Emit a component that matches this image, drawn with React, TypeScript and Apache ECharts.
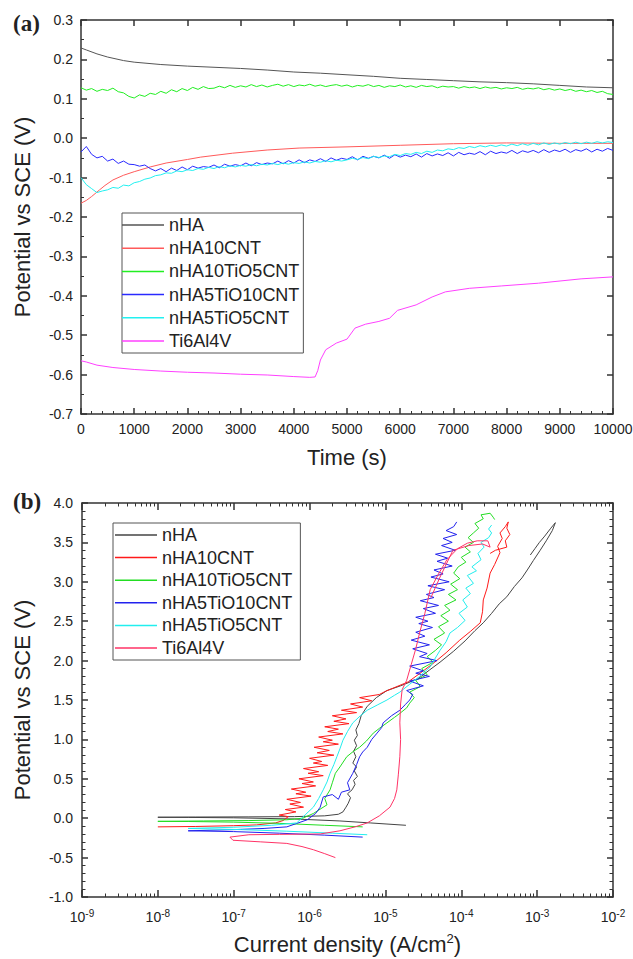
import React, { useEffect, useRef } from "react";
import * as echarts from "echarts";

const FONT = "'Liberation Sans', Arial, sans-serif";
const NAMES = ["nHA", "nHA10CNT", "nHA10TiO5CNT", "nHA5TiO10CNT", "nHA5TiO5CNT", "Ti6Al4V"];
const COLORS_A = ["#555555", "#ff5a5a", "#22ee22", "#2a2aff", "#22f0f0", "#ff40ff"];
const COLORS_B = ["#444444", "#ff1a1a", "#22dd22", "#2222ee", "#22eeee", "#ff3366"];

// ---------- panel (a): open circuit potential vs time ----------
const TIME = [0, 100, 200, 300, 400, 500, 600, 700, 800, 900, 1000, 1100, 1200, 1300, 1400, 1500, 1600, 1700, 1800, 1900, 2000, 2100, 2200, 2300, 2400, 2500, 2600, 2700, 2800, 2900, 3000, 3100, 3200, 3300, 3400, 3500, 3600, 3700, 3800, 3900, 4000, 4100, 4200, 4300, 4400, 4500, 4600, 4700, 4800, 4900, 5000, 5100, 5200, 5300, 5400, 5500, 5600, 5700, 5800, 5900, 6000, 6100, 6200, 6300, 6400, 6500, 6600, 6700, 6800, 6900, 7000, 7100, 7200, 7300, 7400, 7500, 7600, 7700, 7800, 7900, 8000, 8100, 8200, 8300, 8400, 8500, 8600, 8700, 8800, 8900, 9000, 9100, 9200, 9300, 9400, 9500, 9600, 9700, 9800, 9900, 10000];

const NHA_A = [[0, 0.229], [100, 0.224], [300, 0.214], [500, 0.206], [800, 0.197], [1000, 0.193], [1500, 0.187], [2000, 0.183], [2500, 0.18], [3000, 0.177], [3500, 0.173], [4000, 0.168], [4500, 0.165], [5000, 0.161], [5500, 0.157], [6000, 0.152], [6500, 0.149], [7000, 0.146], [7500, 0.143], [8000, 0.141], [8500, 0.138], [9000, 0.134], [9500, 0.13], [10000, 0.128]];

const NHA10CNT_A = [[0, -0.165], [100, -0.158], [200, -0.148], [350, -0.131], [450, -0.12], [600, -0.106], [800, -0.094], [1000, -0.085], [1300, -0.073], [1600, -0.063], [2000, -0.054], [2250, -0.048], [2850, -0.038], [3500, -0.03], [4100, -0.025], [5000, -0.022], [6000, -0.018], [7000, -0.014], [8000, -0.012], [9000, -0.013], [10000, -0.013]];

const NHA10TIO5CNT_A = [0.128, 0.122, 0.126, 0.119, 0.124, 0.121, 0.127, 0.118, 0.115, 0.106, 0.102, 0.11, 0.106, 0.114, 0.111, 0.119, 0.114, 0.123, 0.118, 0.126, 0.121, 0.129, 0.124, 0.131, 0.126, 0.127, 0.132, 0.128, 0.134, 0.129, 0.133, 0.13, 0.136, 0.131, 0.135, 0.13, 0.134, 0.137, 0.132, 0.136, 0.131, 0.135, 0.133, 0.137, 0.132, 0.135, 0.131, 0.134, 0.136, 0.132, 0.135, 0.13, 0.134, 0.132, 0.136, 0.131, 0.134, 0.129, 0.133, 0.131, 0.135, 0.13, 0.133, 0.129, 0.134, 0.131, 0.133, 0.128, 0.132, 0.13, 0.131, 0.127, 0.131, 0.128, 0.13, 0.126, 0.13, 0.127, 0.129, 0.125, 0.128, 0.126, 0.129, 0.124, 0.127, 0.125, 0.128, 0.123, 0.126, 0.122, 0.125, 0.121, 0.124, 0.119, 0.122, 0.118, 0.121, 0.116, 0.119, 0.113, 0.111];

const NHA5TIO10CNT_A = [-0.035, -0.021, -0.041, -0.05, -0.046, -0.058, -0.053, -0.064, -0.058, -0.066, -0.067, -0.071, -0.068, -0.077, -0.083, -0.077, -0.085, -0.076, -0.082, -0.073, -0.08, -0.071, -0.076, -0.072, -0.074, -0.068, -0.075, -0.066, -0.071, -0.067, -0.07, -0.063, -0.07, -0.062, -0.067, -0.063, -0.065, -0.058, -0.065, -0.057, -0.063, -0.055, -0.062, -0.055, -0.059, -0.052, -0.059, -0.05, -0.056, -0.051, -0.054, -0.047, -0.055, -0.046, -0.051, -0.046, -0.05, -0.043, -0.051, -0.042, -0.048, -0.043, -0.047, -0.04, -0.048, -0.039, -0.045, -0.04, -0.044, -0.037, -0.045, -0.036, -0.042, -0.038, -0.041, -0.034, -0.042, -0.033, -0.039, -0.035, -0.038, -0.031, -0.039, -0.032, -0.036, -0.031, -0.037, -0.029, -0.036, -0.03, -0.034, -0.028, -0.036, -0.029, -0.033, -0.027, -0.035, -0.028, -0.033, -0.026, -0.031];

const NHA5TIO5CNT_A = [-0.1, -0.118, -0.128, -0.138, -0.134, -0.131, -0.125, -0.127, -0.119, -0.121, -0.113, -0.11, -0.104, -0.101, -0.095, -0.093, -0.088, -0.089, -0.083, -0.085, -0.08, -0.082, -0.077, -0.079, -0.074, -0.077, -0.072, -0.075, -0.07, -0.073, -0.069, -0.071, -0.067, -0.07, -0.066, -0.068, -0.064, -0.067, -0.063, -0.066, -0.062, -0.064, -0.06, -0.063, -0.059, -0.061, -0.057, -0.06, -0.056, -0.058, -0.055, -0.051, -0.054, -0.049, -0.052, -0.046, -0.049, -0.045, -0.047, -0.041, -0.044, -0.039, -0.041, -0.036, -0.039, -0.033, -0.036, -0.03, -0.032, -0.027, -0.029, -0.024, -0.026, -0.021, -0.024, -0.019, -0.022, -0.018, -0.021, -0.017, -0.02, -0.015, -0.019, -0.014, -0.018, -0.013, -0.017, -0.012, -0.016, -0.012, -0.015, -0.011, -0.014, -0.01, -0.014, -0.01, -0.013, -0.009, -0.012, -0.009, -0.011];

const TI6AL4V_A = [[0, -0.565], [100, -0.568], [300, -0.576], [600, -0.582], [1000, -0.587], [1500, -0.591], [2000, -0.594], [2500, -0.596], [3000, -0.599], [3500, -0.601], [4000, -0.605], [4300, -0.607], [4400, -0.606], [4450, -0.59], [4500, -0.563], [4600, -0.537], [4800, -0.52], [5000, -0.51], [5150, -0.482], [5350, -0.472], [5600, -0.465], [5800, -0.457], [5950, -0.437], [6300, -0.423], [6600, -0.403], [6850, -0.39], [7300, -0.381], [7900, -0.375], [8600, -0.368], [9400, -0.357], [10000, -0.352]];

// ---------- panel (b): polarisation curves, [log10(i / A cm^-2), E / V] ----------
const NHA_B = [[-4.73, -0.09], [-5.2, -0.06], [-5.6, -0.035], [-6.2, -0.01], [-7.0, 0.005], [-7.6, 0.01], [-8.0, 0.012], [-7.5, 0.015], [-6.8, 0.017], [-6.2, 0.02], [-5.8, 0.03], [-5.62, 0.05], [-5.56, 0.08], [-5.52, 0.14], [-5.49, 0.19], [-5.46, 0.26], [-5.5, 0.31], [-5.44, 0.36], [-5.4, 0.43], [-5.42, 0.48], [-5.37, 0.53], [-5.41, 0.6], [-5.38, 0.65], [-5.43, 0.7], [-5.39, 0.78], [-5.42, 0.85], [-5.38, 0.92], [-5.41, 0.99], [-5.37, 1.05], [-5.39, 1.12], [-5.35, 1.2], [-5.32, 1.3], [-5.24, 1.42], [-5.12, 1.53], [-4.98, 1.62], [-4.8, 1.68], [-4.57, 1.77], [-4.42, 1.88], [-4.28, 1.98], [-4.1, 2.12], [-3.95, 2.25], [-3.82, 2.38], [-3.71, 2.48], [-3.6, 2.6], [-3.5, 2.72], [-3.4, 2.81], [-3.3, 2.94], [-3.2, 3.05], [-3.13, 3.15], [-3.05, 3.27], [-2.96, 3.4], [-2.88, 3.52], [-2.8, 3.65], [-2.76, 3.75], [-2.82, 3.68], [-2.9, 3.58], [-2.97, 3.5], [-3.03, 3.42], [-3.09, 3.34]];

const NHA10CNT_B = [[-8.0, -0.11], [-7.5, -0.105], [-7.0, -0.095], [-6.7, -0.085], [-6.45, -0.06], [-6.35, -0.03], [-6.28, 0.02], [-6.4, 0.04], [-6.18, 0.08], [-6.32, 0.11], [-6.08, 0.14], [-6.26, 0.18], [-6.12, 0.2], [-6.3, 0.24], [-5.98, 0.28], [-6.18, 0.31], [-6.05, 0.33], [-6.24, 0.37], [-5.92, 0.41], [-6.1, 0.44], [-5.95, 0.46], [-6.14, 0.5], [-5.82, 0.54], [-6.02, 0.57], [-5.88, 0.59], [-6.08, 0.63], [-5.76, 0.67], [-5.95, 0.7], [-5.84, 0.72], [-6.0, 0.76], [-5.68, 0.8], [-5.9, 0.83], [-5.74, 0.86], [-5.94, 0.9], [-5.62, 0.94], [-5.82, 0.97], [-5.7, 0.99], [-5.88, 1.03], [-5.56, 1.07], [-5.76, 1.1], [-5.62, 1.13], [-5.8, 1.16], [-5.48, 1.2], [-5.68, 1.23], [-5.52, 1.26], [-5.7, 1.3], [-5.38, 1.34], [-5.58, 1.37], [-5.3, 1.41], [-5.46, 1.45], [-5.18, 1.49], [-5.34, 1.53], [-5.08, 1.57], [-5.0, 1.61], [-4.9, 1.65], [-4.7, 1.73], [-4.5, 1.87], [-4.35, 1.98], [-4.2, 2.1], [-4.02, 2.26], [-3.88, 2.37], [-3.75, 2.48], [-3.72, 2.62], [-3.71, 2.77], [-3.66, 2.92], [-3.62, 3.11], [-3.56, 3.22], [-3.49, 3.37], [-3.52, 3.45], [-3.46, 3.55], [-3.49, 3.62], [-3.42, 3.7], [-3.38, 3.76], [-3.4, 3.68], [-3.36, 3.6], [-3.42, 3.52], [-3.4, 3.44], [-3.55, 3.4], [-3.62, 3.36]];

const NHA10TIO5CNT_B = [[-5.3, -0.11], [-5.8, -0.09], [-6.4, -0.065], [-7.0, -0.05], [-7.6, -0.042], [-8.0, -0.04], [-7.4, -0.035], [-6.8, -0.03], [-6.3, -0.02], [-6.09, 0.0], [-5.95, 0.06], [-5.77, 0.17], [-5.8, 0.25], [-5.73, 0.36], [-5.7, 0.45], [-5.66, 0.57], [-5.6, 0.65], [-5.51, 0.78], [-5.42, 0.85], [-5.34, 0.9], [-5.25, 0.98], [-5.16, 1.08], [-5.08, 1.14], [-4.98, 1.21], [-4.88, 1.28], [-4.81, 1.33], [-4.72, 1.4], [-4.68, 1.46], [-4.62, 1.53], [-4.68, 1.6], [-4.54, 1.67], [-4.6, 1.75], [-4.45, 1.82], [-4.52, 1.9], [-4.37, 1.98], [-4.45, 2.05], [-4.34, 2.13], [-4.26, 2.2], [-4.36, 2.27], [-4.22, 2.35], [-4.3, 2.43], [-4.17, 2.5], [-4.27, 2.57], [-4.15, 2.64], [-4.22, 2.7], [-4.07, 2.77], [-4.17, 2.84], [-4.05, 2.9], [-4.14, 2.97], [-4.02, 3.04], [-4.1, 3.11], [-4.04, 3.19], [-3.94, 3.25], [-4.0, 3.31], [-3.88, 3.38], [-3.95, 3.44], [-3.84, 3.5], [-3.91, 3.56], [-3.84, 3.62], [-3.77, 3.68], [-3.82, 3.74], [-3.71, 3.8], [-3.74, 3.85], [-3.62, 3.87], [-3.58, 3.82], [-3.56, 3.79]];

const NHA5TIO10CNT_B = [[-5.3, -0.24], [-5.8, -0.215], [-6.4, -0.19], [-7.0, -0.17], [-7.6, -0.16], [-7.0, -0.145], [-6.6, -0.13], [-6.3, -0.11], [-6.03, -0.02], [-5.92, 0.06], [-5.86, 0.14], [-5.82, 0.27], [-5.7, 0.3], [-5.62, 0.24], [-5.58, 0.33], [-5.47, 0.36], [-5.5, 0.45], [-5.43, 0.57], [-5.38, 0.68], [-5.34, 0.78], [-5.3, 0.84], [-5.24, 0.9], [-5.18, 1.0], [-5.11, 1.08], [-5.05, 1.15], [-5.03, 1.21], [-4.92, 1.3], [-4.81, 1.37], [-4.74, 1.44], [-4.68, 1.5], [-4.64, 1.57], [-4.72, 1.62], [-4.5, 1.68], [-4.68, 1.74], [-4.42, 1.8], [-4.6, 1.84], [-4.5, 1.87], [-4.68, 1.93], [-4.32, 2.0], [-4.55, 2.05], [-4.45, 2.09], [-4.64, 2.15], [-4.42, 2.2], [-4.66, 2.26], [-4.48, 2.31], [-4.6, 2.36], [-4.38, 2.42], [-4.56, 2.47], [-4.44, 2.5], [-4.6, 2.55], [-4.34, 2.6], [-4.5, 2.66], [-4.3, 2.7], [-4.54, 2.76], [-4.36, 2.8], [-4.46, 2.84], [-4.22, 2.9], [-4.44, 2.95], [-4.16, 3.0], [-4.4, 3.06], [-4.24, 3.1], [-4.36, 3.15], [-4.12, 3.2], [-4.32, 3.26], [-4.18, 3.3], [-4.34, 3.35], [-4.08, 3.4], [-4.26, 3.46], [-4.12, 3.5], [-4.24, 3.55], [-4.06, 3.6], [-4.2, 3.65], [-4.1, 3.7], [-4.06, 3.76]];

const NHA5TIO5CNT_B = [[-5.24, -0.21], [-5.7, -0.19], [-6.3, -0.165], [-6.9, -0.145], [-7.6, -0.13], [-7.0, -0.115], [-6.5, -0.09], [-6.17, -0.06], [-6.05, 0.05], [-5.95, 0.14], [-5.88, 0.25], [-5.82, 0.36], [-5.77, 0.46], [-5.73, 0.57], [-5.68, 0.68], [-5.64, 0.78], [-5.6, 0.88], [-5.56, 0.99], [-5.5, 1.1], [-5.43, 1.21], [-5.33, 1.3], [-5.24, 1.37], [-5.1, 1.44], [-4.98, 1.5], [-4.88, 1.56], [-4.81, 1.6], [-4.68, 1.7], [-4.55, 1.8], [-4.41, 1.92], [-4.35, 2.02], [-4.28, 2.13], [-4.2, 2.24], [-4.15, 2.35], [-4.05, 2.42], [-3.95, 2.51], [-4.03, 2.6], [-3.92, 2.68], [-3.98, 2.77], [-3.88, 2.85], [-3.94, 2.92], [-3.84, 2.98], [-3.92, 3.08], [-3.8, 3.14], [-3.86, 3.19], [-3.74, 3.28], [-3.78, 3.36], [-3.7, 3.44], [-3.74, 3.5], [-3.64, 3.56], [-3.6, 3.62], [-3.64, 3.67], [-3.6, 3.72]];

const TI6AL4V_B = [[-5.66, -0.5], [-5.8, -0.45], [-5.95, -0.4], [-6.1, -0.36], [-6.3, -0.32], [-6.65, -0.3], [-7.01, -0.28], [-7.05, -0.24], [-6.8, -0.21], [-6.4, -0.205], [-5.86, -0.2], [-5.6, -0.16], [-5.4, -0.11], [-5.24, -0.06], [-5.08, 0.03], [-4.94, 0.14], [-4.88, 0.25], [-4.85, 0.36], [-4.83, 0.55], [-4.81, 0.78], [-4.8, 1.0], [-4.81, 1.21], [-4.8, 1.45], [-4.78, 1.63], [-4.72, 1.75], [-4.66, 1.95], [-4.6, 2.15], [-4.55, 2.35], [-4.48, 2.6], [-4.41, 2.9], [-4.3, 3.1], [-4.19, 3.28], [-4.05, 3.42], [-3.92, 3.49], [-3.79, 3.52], [-3.65, 3.52], [-3.62, 3.44], [-3.72, 3.48], [-3.9, 3.46], [-4.11, 3.4], [-4.28, 3.06], [-4.4, 2.8]];

const DECADES = [1e-9, 1e-8, 1e-7, 1e-6, 1e-5, 1e-4, 1e-3, 1e-2];
const MANTISSAS = [2, 3, 4, 5, 6, 7, 8, 9];

const AXIS_COLOR = "#333";
const LABEL_COLOR = "#222";

export default function App() {
  const ref = useRef<HTMLDivElement>(null);

  useEffect(() => {
    if (!ref.current) return;
    const chart = echarts.init(ref.current, undefined, { renderer: "svg" });

    const minorLog: number[] = [];
    DECADES.slice(0, -1).forEach((d) => MANTISSAS.forEach((m) => minorLog.push(m * d)));

    const fmt1 = (v: number) => (Math.abs(v) < 1e-9 ? "0.0" : v.toFixed(1));
    const line = { show: true, onZero: false, lineStyle: { color: AXIS_COLOR, width: 1.5 } };
    const noSplit = { show: false };
    const labelBase = { color: LABEL_COLOR, fontSize: 14, fontFamily: FONT };
    const titleStyle = { fontSize: 22, color: LABEL_COLOR, fontFamily: FONT };

    const toB = (pts: number[][]) => pts.map(([l, e]) => [Math.pow(10, l), e]);

    const seriesA = [
      { data: NHA_A },
      { data: NHA10CNT_A },
      { data: TIME.map((t, i) => [t, NHA10TIO5CNT_A[i]]) },
      { data: TIME.map((t, i) => [t, NHA5TIO10CNT_A[i]]) },
      { data: TIME.map((t, i) => [t, NHA5TIO5CNT_A[i]]) },
      { data: TI6AL4V_A },
    ].map((s, i) => ({
      type: "line",
      name: NAMES[i],
      xAxisIndex: 0,
      yAxisIndex: 0,
      data: s.data,
      symbol: "none",
      showSymbol: false,
      lineStyle: { color: COLORS_A[i], width: 1 },
      itemStyle: { color: COLORS_A[i] },
      silent: true,
    }));

    const seriesB = [NHA_B, NHA10CNT_B, NHA10TIO5CNT_B, NHA5TIO10CNT_B, NHA5TIO5CNT_B, TI6AL4V_B].map((pts, i) => ({
      type: "line",
      name: NAMES[i],
      xAxisIndex: 2,
      yAxisIndex: 2,
      data: toB(pts),
      symbol: "none",
      showSymbol: false,
      lineStyle: { color: COLORS_B[i], width: 1 },
      itemStyle: { color: COLORS_B[i] },
      silent: true,
    }));

    const logLabel = (v: number) => `{b|10}{s|${Math.round(Math.log10(v))}}`;

    const legendCommon = {
      orient: "vertical",
      icon: "rect",
      itemHeight: 1.5,
      itemWidth: 42,
      borderColor: "#555",
      borderWidth: 1,
      selectedMode: false,
      textStyle: { fontSize: 18, color: LABEL_COLOR, fontFamily: FONT },
    };

    chart.setOption({
      animation: false,
      backgroundColor: "#fff",
      grid: [
        { left: 81, top: 20, width: 532, height: 394, outerBoundsMode: "none", containLabel: false },
        { left: 82, top: 503, width: 531, height: 394, outerBoundsMode: "none", containLabel: false },
      ],
      xAxis: [
        {
          gridIndex: 0, type: "value", position: "bottom", min: 0, max: 10000, interval: 1000,
          axisLine: line,
          axisTick: { show: true, inside: true, length: 6, lineStyle: { color: AXIS_COLOR, width: 1.5 } },
          minorTick: { show: true, splitNumber: 5, length: 3, lineStyle: { color: AXIS_COLOR, width: 1 } },
          axisLabel: { ...labelBase, margin: 8, formatter: (v: number) => String(v) },
          splitLine: noSplit,
          name: "Time (s)", nameLocation: "middle", nameGap: 32,
          nameTextStyle: titleStyle,
        },
        {
          gridIndex: 0, type: "value", position: "top", min: 0, max: 10000, interval: 1000,
          axisLine: line,
          axisTick: { show: true, inside: true, length: 6, lineStyle: { color: AXIS_COLOR, width: 1.5 } },
          axisLabel: { show: false },
          splitLine: noSplit,
        },
        {
          gridIndex: 1, type: "log", logBase: 10, position: "bottom", min: 1e-9, max: 1e-2,
          axisLine: line,
          axisTick: { show: true, inside: true, length: 7, customValues: DECADES, lineStyle: { color: AXIS_COLOR, width: 1.5 } },
          axisLabel: {
            ...labelBase, margin: 11, customValues: DECADES, formatter: logLabel,
            rich: {
              b: { fontSize: 14, lineHeight: 18, color: LABEL_COLOR, fontFamily: FONT },
              s: { fontSize: 10, lineHeight: 10, verticalAlign: "top", color: LABEL_COLOR, fontFamily: FONT },
            },
          },
          splitLine: noSplit,
          name: "Current density (A/cm{sup|2})", nameLocation: "middle", nameGap: 35,
          nameTextStyle: {
            ...titleStyle, lineHeight: 25,
            rich: { sup: { fontSize: 13, lineHeight: 13, verticalAlign: "top", color: LABEL_COLOR, fontFamily: FONT } },
          },
        },
        {
          gridIndex: 1, type: "log", logBase: 10, position: "bottom", min: 1e-9, max: 1e-2,
          axisLine: { show: false, onZero: false },
          axisTick: { show: true, inside: true, length: 3.5, customValues: minorLog, lineStyle: { color: AXIS_COLOR, width: 1 } },
          axisLabel: { show: false },
          splitLine: noSplit,
        },
        {
          gridIndex: 1, type: "log", logBase: 10, position: "top", min: 1e-9, max: 1e-2,
          axisLine: line,
          axisTick: { show: true, inside: true, length: 7, customValues: DECADES, lineStyle: { color: AXIS_COLOR, width: 1.5 } },
          axisLabel: { show: false },
          splitLine: noSplit,
        },
        {
          gridIndex: 1, type: "log", logBase: 10, position: "top", min: 1e-9, max: 1e-2,
          axisLine: { show: false, onZero: false },
          axisTick: { show: true, inside: true, length: 3.5, customValues: minorLog, lineStyle: { color: AXIS_COLOR, width: 1 } },
          axisLabel: { show: false },
          splitLine: noSplit,
        },
      ],
      yAxis: [
        {
          gridIndex: 0, type: "value", position: "left", min: -0.7, max: 0.3, interval: 0.1,
          axisLine: line,
          axisTick: { show: true, inside: true, length: 6, lineStyle: { color: AXIS_COLOR, width: 1.5 } },
          minorTick: { show: true, splitNumber: 2, length: 3, lineStyle: { color: AXIS_COLOR, width: 1 } },
          axisLabel: { ...labelBase, margin: 8, formatter: fmt1 },
          splitLine: noSplit,
          name: "Potential vs SCE (V)", nameLocation: "middle", nameGap: 48,
          nameTextStyle: titleStyle,
        },
        {
          gridIndex: 0, type: "value", position: "right", min: -0.7, max: 0.3, interval: 0.1,
          axisLine: line,
          axisTick: { show: true, inside: true, length: 6, lineStyle: { color: AXIS_COLOR, width: 1.5 } },
          axisLabel: { show: false },
          splitLine: noSplit,
        },
        {
          gridIndex: 1, type: "value", position: "left", min: -1, max: 4, interval: 0.5,
          axisLine: line,
          axisTick: { show: true, inside: true, length: 6, lineStyle: { color: AXIS_COLOR, width: 1.5 } },
          minorTick: { show: true, splitNumber: 5, length: 3.5, lineStyle: { color: AXIS_COLOR, width: 1 } },
          axisLabel: { ...labelBase, margin: 9, formatter: fmt1 },
          splitLine: noSplit,
          name: "Potential vs SCE (V)", nameLocation: "middle", nameGap: 49,
          nameTextStyle: titleStyle,
        },
        {
          gridIndex: 1, type: "value", position: "right", min: -1, max: 4, interval: 0.5,
          axisLine: line,
          axisTick: { show: true, inside: true, length: 6, lineStyle: { color: AXIS_COLOR, width: 1.5 } },
          minorTick: { show: true, splitNumber: 5, length: 3.5, lineStyle: { color: AXIS_COLOR, width: 1 } },
          axisLabel: { show: false },
          splitLine: noSplit,
        },
      ],
      legend: [
        {
          ...legendCommon,
          left: 122, top: 213, itemGap: 5.2, padding: [3, 4, 3, 0],
          data: NAMES.map((n, i) => ({ name: n, itemStyle: { color: COLORS_A[i] } })),
        },
        {
          ...legendCommon,
          left: 113, top: 523, itemGap: 4.6, padding: [3, 8, 3, 2],
          data: NAMES.map((n, i) => ({ name: n, itemStyle: { color: COLORS_B[i] } })),
        },
      ],
      graphic: [
        { type: "text", left: 13, top: 12, style: { text: "(a)", font: "bold 23px 'Liberation Serif', 'Times New Roman', serif", fill: "#222" } },
        { type: "text", left: 13, top: 490, style: { text: "(b)", font: "bold 23px 'Liberation Serif', 'Times New Roman', serif", fill: "#222" } },
      ],
      series: [...seriesA, ...seriesB],
    });

    return () => chart.dispose();
  }, []);

  return <div ref={ref} style={{ position: "absolute", left: 0, top: 0, width: 633, height: 959, background: "#fff" }} />;
}
